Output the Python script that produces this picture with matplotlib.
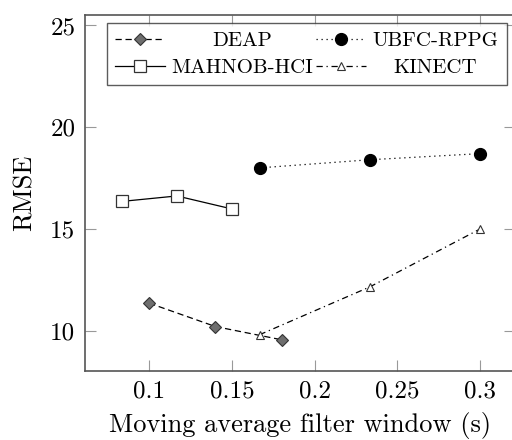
import matplotlib
matplotlib.use("Agg")
import matplotlib.pyplot as plt

plt.rcParams["font.family"] = "serif"
plt.rcParams["font.serif"] = ["cmr10"]
plt.rcParams["mathtext.fontset"] = "cm"
plt.rcParams["axes.unicode_minus"] = False
plt.rcParams["axes.formatter.use_mathtext"] = True

# data
deap_x = [0.1, 0.14, 0.18]
deap_y = [11.35, 10.2, 9.55]
ubfc_x = [0.1667, 0.2333, 0.3]
ubfc_y = [18.0, 18.4, 18.7]
mahnob_x = [0.0833, 0.1167, 0.15]
mahnob_y = [16.35, 16.62, 15.98]
kinect_x = [0.1667, 0.2333, 0.3]
kinect_y = [9.8, 12.15, 15.0]

xticks = [0.1, 0.15, 0.2, 0.25, 0.3]
xticklabels = ["0.1", "0.15", "0.2", "0.25", "0.3"]
yticks = [10, 15, 20, 25]
yticklabels = ["10", "15", "20", "25"]

W, H = 512, 440
fig = plt.figure(figsize=(W / 100, H / 100), dpi=100)
# right frame edge runs off the picture, like in the reference
ax = fig.add_axes([85 / W, (H - 370.7) / H, (515 - 85) / W, (370.7 - 15.5) / H])

l_deap, = ax.plot(deap_x, deap_y, color="black", lw=0.9, ls=(0, (5, 3)), marker="D",
                  ms=6.5, mfc="#6e6e6e", mec="#333333", mew=0.8, label="DEAP")
l_ubfc, = ax.plot(ubfc_x, ubfc_y, color="black", lw=0.9, ls=(0, (1, 3)), marker="o",
                  ms=8.5, mfc="black", mec="black", label="UBFC-RPPG")
l_mahnob, = ax.plot(mahnob_x, mahnob_y, color="black", lw=0.9, ls="-", marker="s",
                    ms=8, mfc="white", mec="#333333", mew=0.9, label="MAHNOB-HCI")
l_kinect, = ax.plot(kinect_x, kinect_y, color="black", lw=0.9, ls=(0, (5, 3, 1, 3)),
                    marker="^", ms=6, mfc="white", mec="#333333", mew=0.8, label="KINECT")

ax.set_xlim(0.0612, 0.321)
ax.set_ylim(8.03, 25.49)
ax.set_xticks(xticks)
ax.set_xticklabels(xticklabels)
ax.set_yticks(yticks)
ax.set_yticklabels(yticklabels)
ax.tick_params(direction="in", length=8, width=0.8, color="#999999",
               labelsize=18, top=True, right=True, pad=7)
for s in ax.spines.values():
    s.set_color("#555555")
    s.set_linewidth(1.2)

ax.set_xlabel("Moving average filter window (s)", fontsize=19, labelpad=7)
ax.set_ylabel("RMSE", fontsize=19, labelpad=10)

handles = [l_deap, l_mahnob, l_ubfc, l_kinect]
leg = ax.legend(handles=handles, labels=[h.get_label() for h in handles],
                ncol=2, loc="upper left", bbox_to_anchor=(0.051, 0.979),
                fontsize=15, frameon=True, fancybox=False, edgecolor="#333333",
                handlelength=2.4, handletextpad=0.3, columnspacing=0.15,
                labelspacing=0.4, borderpad=0.4, borderaxespad=0.0)
leg.get_frame().set_linewidth(1.0)

# centre the shorter labels in their column
fig.canvas.draw()
texts = leg.get_texts()
widths = [t.get_window_extent().width for t in texts]
for col in [[0, 1], [2, 3]]:
    wmax = max(widths[i] for i in col)
    for i in col:
        texts[i].set_x((wmax - widths[i]) / 2)

fig.savefig("out.png", dpi=100)
